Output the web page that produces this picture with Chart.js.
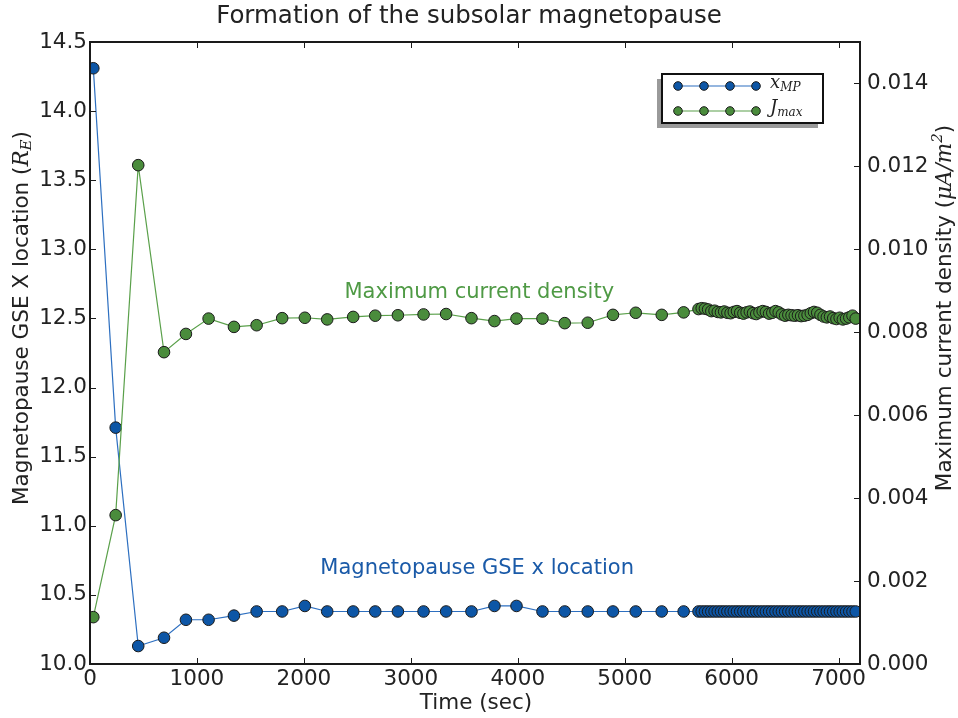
<!DOCTYPE html>
<html>
<head>
<meta charset="utf-8">
<script src="https://cdn.jsdelivr.net/npm/chart.js@4.4.1/dist/chart.umd.min.js"></script>
<style>
  html, body { margin: 0; padding: 0; background: #ffffff; }
  canvas { display: block; }
</style>
</head>
<body>
<canvas id="c" width="958" height="718"></canvas>
<script>
// ---- Data ----
const timeSec = [31, 240, 451, 692, 897, 1109, 1346, 1558, 1797, 2009, 2218, 2461, 2667, 2879, 3119, 3330, 3567, 3782, 3988, 4231, 4439, 4654, 4890, 5103, 5346, 5551,
  5690, 5720, 5750, 5780, 5810, 5840, 5870, 5900, 5930, 5960, 5990, 6020, 6050, 6080, 6110, 6140, 6170, 6200, 6230, 6260,
  6290, 6320, 6350, 6380, 6410, 6440, 6470, 6500, 6530, 6560, 6590, 6620, 6650, 6680, 6710, 6740, 6770, 6800, 6830, 6860,
  6890, 6920, 6950, 6980, 7010, 7040, 7070, 7100, 7130, 7160];
const xMP = [14.31, 11.71, 10.13, 10.19, 10.32, 10.32, 10.35, 10.38, 10.38, 10.42, 10.38, 10.38, 10.38, 10.38, 10.38, 10.38, 10.38, 10.42, 10.42, 10.38, 10.38, 10.38, 10.38, 10.38, 10.38, 10.38,
  10.38, 10.38, 10.38, 10.38, 10.38, 10.38, 10.38, 10.38, 10.38, 10.38, 10.38, 10.38, 10.38, 10.38, 10.38, 10.38, 10.38, 10.38, 10.38, 10.38,
  10.38, 10.38, 10.38, 10.38, 10.38, 10.38, 10.38, 10.38, 10.38, 10.38, 10.38, 10.38, 10.38, 10.38, 10.38, 10.38, 10.38, 10.38, 10.38, 10.38,
  10.38, 10.38, 10.38, 10.38, 10.38, 10.38, 10.38, 10.38, 10.38, 10.38];
const jMax = [0.00113, 0.00359, 0.01203, 0.00752, 0.00796, 0.00833, 0.00813, 0.00817, 0.00834, 0.00835, 0.00831, 0.00837, 0.00840, 0.00841, 0.00843, 0.00844, 0.00834, 0.00827, 0.00833, 0.00833, 0.00822, 0.00823, 0.00842, 0.00847, 0.00842, 0.00848,
  0.00856, 0.00858, 0.00857, 0.00855, 0.00851, 0.00852, 0.00849, 0.00848, 0.00850, 0.00847, 0.00846, 0.00849, 0.00851, 0.00847, 0.00845, 0.00848, 0.00850, 0.00846, 0.00844, 0.00848,
  0.00851, 0.00849, 0.00845, 0.00847, 0.00851, 0.00848, 0.00843, 0.00840, 0.00842, 0.00841, 0.00840, 0.00841, 0.00839, 0.00840, 0.00842, 0.00846, 0.00849, 0.00847, 0.00842, 0.00838,
  0.00836, 0.00838, 0.00834, 0.00832, 0.00835, 0.00831, 0.00833, 0.00836, 0.00840, 0.00833];
const xTickValues = [0, 1000, 2000, 3000, 4000, 5000, 6000, 7000];
const leftTickValues = [10.0, 10.5, 11.0, 11.5, 12.0, 12.5, 13.0, 13.5, 14.0, 14.5];
const rightTickValues = [0.000, 0.002, 0.004, 0.006, 0.008, 0.010, 0.012, 0.014];
const chartTitle = "Formation of the subsolar magnetopause";
const xAxisTitle = "Time (sec)";
const annotGreen = "Maximum current density";
const annotBlue = "Magnetopause GSE x location";

// ---- Styles ----
const SANS = "'DejaVu Sans', sans-serif";
const LBL = '21.5px ' + SANS;
const SERIF_I = "italic 21.5px 'DejaVu Serif', serif";
const TXT = '#222222';
const BLUE_FILL = '#0d56a6', BLUE_LINE = '#2d6fc0';
const GREEN_FILL = '#4a8c3c', GREEN_LINE = '#5aa04a';
const BLUE_TEXT = '#1a5aa8', GREEN_TEXT = '#4f9a45';

const blueData = timeSec.map((t, i) => ({ x: t, y: xMP[i] }));
const greenData = timeSec.map((t, i) => ({ x: t, y: jMax[i] }));

function drawRich(ctx, segs, x, y, align) {
  let w = 0;
  segs.forEach(s => { ctx.font = s.font; w += ctx.measureText(s.t).width; });
  let cx = align === 'center' ? x - w / 2 : x;
  ctx.textBaseline = 'middle';
  ctx.textAlign = 'left';
  segs.forEach(s => {
    ctx.font = s.font;
    ctx.fillText(s.t, cx, y + (s.dy || 0));
    cx += ctx.measureText(s.t).width;
  });
}

const decorPlugin = {
  id: 'decor',
  afterDatasetsDraw(chart) {
    const ctx = chart.ctx;
    const a = chart.chartArea;
    const sx = chart.scales.x, sy = chart.scales.y, sy1 = chart.scales.y1;
    ctx.save();
    // frame
    ctx.strokeStyle = '#1a1a1a';
    ctx.lineWidth = 2;
    ctx.strokeRect(a.left, a.top, a.right - a.left, a.bottom - a.top);
    // inward ticks
    ctx.lineWidth = 1;
    ctx.beginPath();
    xTickValues.forEach(v => {
      const p = Math.round(sx.getPixelForValue(v)) + 0.5;
      ctx.moveTo(p, a.bottom); ctx.lineTo(p, a.bottom - 6);
      ctx.moveTo(p, a.top); ctx.lineTo(p, a.top + 6);
    });
    leftTickValues.forEach(v => {
      const p = Math.round(sy.getPixelForValue(v)) + 0.5;
      ctx.moveTo(a.left, p); ctx.lineTo(a.left + 6, p);
    });
    rightTickValues.forEach(v => {
      const p = Math.round(sy1.getPixelForValue(v)) + 0.5;
      ctx.moveTo(a.right, p); ctx.lineTo(a.right - 6, p);
    });
    ctx.stroke();

    // title
    ctx.fillStyle = TXT;
    ctx.font = '24.5px ' + SANS;
    ctx.textAlign = 'center';
    ctx.textBaseline = 'middle';
    ctx.fillText(chartTitle, 469, 17);
    // x axis title
    ctx.font = LBL;
    ctx.fillText(xAxisTitle, 476, 703);

    // left axis title
    ctx.save();
    ctx.translate(22, 318);
    ctx.rotate(-Math.PI / 2);
    ctx.fillStyle = TXT;
    drawRich(ctx, [
      { t: 'Magnetopause GSE X location (', font: LBL },
      { t: 'R', font: SERIF_I },
      { t: 'E', font: "italic 15px 'DejaVu Serif', serif", dy: 5 },
      { t: ')', font: LBL }
    ], 0, 0, 'center');
    ctx.restore();

    // right axis title
    ctx.save();
    ctx.translate(945, 308);
    ctx.rotate(-Math.PI / 2);
    ctx.fillStyle = TXT;
    drawRich(ctx, [
      { t: 'Maximum current density (', font: LBL },
      { t: 'μA/m', font: SERIF_I },
      { t: '2', font: "italic 15px 'DejaVu Serif', serif", dy: -7 },
      { t: ')', font: LBL }
    ], 0, 0, 'center');
    ctx.restore();

    // annotations
    ctx.font = '21px ' + SANS;
    ctx.textAlign = 'center';
    ctx.textBaseline = 'middle';
    ctx.fillStyle = GREEN_TEXT;
    ctx.fillText(annotGreen, sx.getPixelForValue(3640), sy.getPixelForValue(12.685));
    ctx.fillStyle = BLUE_TEXT;
    ctx.fillText(annotBlue, sx.getPixelForValue(3620), sy.getPixelForValue(10.69));

    // legend
    const lx = 662, ly = 74, lw = 161, lh = 49;
    ctx.fillStyle = '#9a9a9a';
    ctx.fillRect(lx - 5, ly + 5, lw, lh);
    ctx.fillStyle = '#ffffff';
    ctx.fillRect(lx, ly, lw, lh);
    ctx.strokeStyle = '#111111';
    ctx.lineWidth = 2;
    ctx.strokeRect(lx, ly, lw, lh);
    const items = [
      { y: 86, line: BLUE_LINE, fill: BLUE_FILL, main: 'x', sub: 'MP' },
      { y: 111, line: GREEN_LINE, fill: GREEN_FILL, main: 'J', sub: 'max' }
    ];
    items.forEach(it => {
      ctx.strokeStyle = it.line;
      ctx.lineWidth = 1.2;
      ctx.beginPath(); ctx.moveTo(678, it.y); ctx.lineTo(756, it.y); ctx.stroke();
      [678, 704, 730, 756].forEach(mx => {
        ctx.beginPath(); ctx.arc(mx, it.y, 4.3, 0, Math.PI * 2);
        ctx.fillStyle = it.fill; ctx.fill();
        ctx.strokeStyle = '#1a1a1a'; ctx.lineWidth = 1; ctx.stroke();
      });
      ctx.fillStyle = TXT;
      drawRich(ctx, [
        { t: it.main, font: "italic 18px 'DejaVu Serif', serif", dy: -3 },
        { t: it.sub, font: "italic 12px 'DejaVu Serif', serif", dy: 2 }
      ], 770, it.y, 'left');
    });
    ctx.restore();
  }
};

const tickFont = { family: SANS, size: 21.5 };

new Chart(document.getElementById('c'), {
  type: 'line',
  data: {
    datasets: [
      {
        label: 'x_MP', data: blueData, yAxisID: 'y', order: 2,
        borderColor: BLUE_LINE, borderWidth: 1.2, backgroundColor: BLUE_FILL,
        pointBackgroundColor: BLUE_FILL, pointBorderColor: '#1a1a1a', pointBorderWidth: 1,
        pointRadius: 5.8, tension: 0, fill: false
      },
      {
        label: 'J_max', data: greenData, yAxisID: 'y1', order: 1,
        borderColor: GREEN_LINE, borderWidth: 1.2, backgroundColor: GREEN_FILL,
        pointBackgroundColor: GREEN_FILL, pointBorderColor: '#1a1a1a', pointBorderWidth: 1,
        pointRadius: 5.8, tension: 0, fill: false
      }
    ]
  },
  options: {
    responsive: false,
    animation: false,
    devicePixelRatio: 1,
    layout: { padding: { top: 42, left: 0, right: 0, bottom: 0 } },
    plugins: { legend: { display: false }, title: { display: false }, tooltip: { enabled: false } },
    scales: {
      x: {
        type: 'linear', min: 0, max: 7200,
        grid: { display: false, drawTicks: false, tickLength: 0 }, border: { display: false },
        afterBuildTicks: s => { s.ticks = xTickValues.map(v => ({ value: v })); },
        afterFit: s => { s.height = 54; },
        ticks: { font: tickFont, color: TXT, padding: 3, maxRotation: 0, autoSkip: false, callback: v => String(v) }
      },
      y: {
        type: 'linear', position: 'left', min: 10, max: 14.5,
        grid: { display: false, drawTicks: false, tickLength: 0 }, border: { display: false },
        afterBuildTicks: s => { s.ticks = leftTickValues.map(v => ({ value: v })); },
        afterFit: s => { s.width = 90; },
        ticks: { font: tickFont, color: TXT, padding: 3, autoSkip: false, callback: v => Number(v).toFixed(1) }
      },
      y1: {
        type: 'linear', position: 'right', min: 0, max: 0.015,
        grid: { display: false, drawTicks: false, tickLength: 0 }, border: { display: false },
        afterBuildTicks: s => { s.ticks = rightTickValues.map(v => ({ value: v })); },
        afterFit: s => { s.width = 98; },
        ticks: { font: tickFont, color: TXT, padding: 7, autoSkip: false, callback: v => Number(v).toFixed(3) }
      }
    }
  },
  plugins: [decorPlugin]
});
</script>
</body>
</html>
